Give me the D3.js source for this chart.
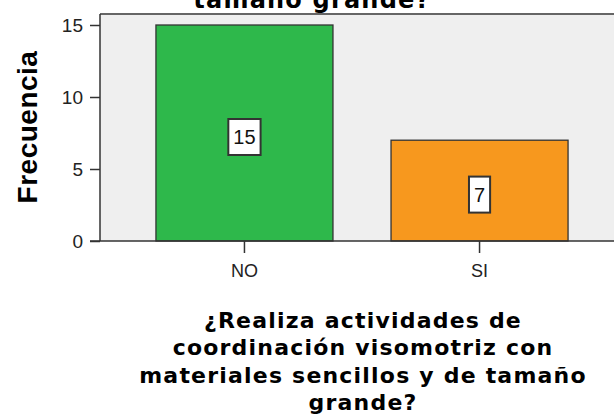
<!DOCTYPE html>
<html>
<head>
<meta charset="utf-8">
<script src="https://cdn.jsdelivr.net/npm/d3@7"></script>
<style>
	html, body { margin: 0; padding: 0; background: #fff; }
	svg { display: block; font-family: "Liberation Sans", Arial, sans-serif; }
</style>
</head>
<body>
<svg id="chart"></svg>
<script>
	// Data
	const categories = ["NO", "SI"];
	const counts = [15, 7];
	const barColors = ["#2eb84b", "#f7981e"];
	const yTicks = [0, 5, 10, 15];
	const titleTop = "tamaño grande?";
	const titleLines = ["¿Realiza actividades de", "coordinación visomotriz con", "materiales sencillos y de tamaño", "grande?"];

	const width = 614;
	const height = 417;
	const plot = {left: 100, right: 624, top: 14, bottom: 241};
	const titleFont = "'DejaVu Sans', Verdana, sans-serif";

	const svg = d3.select("#chart")
			.attr("width", width)
			.attr("height", height);

	// Scales
	const x = d3.scaleBand()
			.domain(categories)
			.range([plot.left, plot.right])
			.paddingInner(0.247)
			.paddingOuter(0.238);

	const y = d3.scaleLinear()
			.domain([0, 15])
			.range([plot.bottom, 25]);

	// Plot background
	svg.append("rect")
			.attr("x", plot.left)
			.attr("y", plot.top)
			.attr("width", plot.right - plot.left)
			.attr("height", plot.bottom - plot.top)
			.style("fill", "#efefef");

	svg.append("line")
			.attr("x1", plot.left).attr("x2", width)
			.attr("y1", plot.top).attr("y2", plot.top)
			.style("stroke", "#666")
			.style("stroke-width", 2);

	// Top (cut-off) title
	svg.append("text")
			.attr("x", 312)
			.attr("y", 8)
			.attr("text-anchor", "middle")
			.style("font-family", titleFont)
			.style("font-size", "24px")
			.style("font-weight", "bold")
			.style("letter-spacing", "1.2px")
			.text(titleTop);

	// Bars
	const bars = svg.selectAll(".bar")
		.data(counts)
		.enter().append("g")
			.attr("class", "bar");

	bars.append("rect")
			.attr("x", (d, i) => x(categories[i]))
			.attr("y", d => y(d))
			.attr("width", x.bandwidth())
			.attr("height", d => y(0) - y(d))
			.style("fill", (d, i) => barColors[i])
			.style("stroke", "#333")
			.style("stroke-width", 1.3);

	// Value labels in boxes
	const labels = bars.append("g")
			.attr("transform", (d, i) => `translate(${x(categories[i]) + x.bandwidth() / 2}, ${y(d / 2) + 4})`);

	labels.append("text")
			.attr("text-anchor", "middle")
			.attr("dy", "0.36em")
			.style("font-size", "20px")
			.style("fill", "#111")
			.text(d => d);

	labels.each(function() {
		const g = d3.select(this);
		const w = g.select("text").node().getComputedTextLength();
		g.insert("rect", "text")
				.attr("x", -w / 2 - 5)
				.attr("y", -18)
				.attr("width", w + 10)
				.attr("height", 36)
				.style("fill", "#fff")
				.style("stroke", "#333")
				.style("stroke-width", 2);
	});

	// Axes
	const yAxis = svg.append("g")
			.attr("transform", `translate(${plot.left}, 0)`)
			.call(d3.axisLeft(y).tickValues(yTicks).tickSize(10).tickPadding(7));

	const xAxis = svg.append("g")
			.attr("transform", `translate(0, ${plot.bottom})`)
			.call(d3.axisBottom(x).tickSize(12).tickPadding(11).tickSizeOuter(0));

	yAxis.select(".domain").attr("d", `M0,${plot.top}V${plot.bottom}`);
	xAxis.select(".domain").attr("d", `M${plot.left - 10},0H${width}`);

	[yAxis, xAxis].forEach(a => {
		a.selectAll("path, line").style("stroke", "#333").style("stroke-width", 1.5);
		a.selectAll("text")
				.style("font-family", "'Liberation Sans', Arial, sans-serif")
				.style("font-size", "18px")
				.style("fill", "#222");
	});
	yAxis.selectAll("text").style("font-size", "19px");

	// Y axis title
	svg.append("text")
			.attr("transform", "translate(37, 127) rotate(-90)")
			.attr("text-anchor", "middle")
			.style("font-size", "28px")
			.style("font-weight", "bold")
			.style("letter-spacing", "0.5px")
			.text("Frecuencia");

	// X axis title
	svg.append("text")
			.attr("text-anchor", "middle")
			.style("font-family", titleFont)
			.style("font-size", "22px")
			.style("font-weight", "bold")
			.style("letter-spacing", "1.2px")
		.selectAll("tspan")
		.data(titleLines)
		.enter().append("tspan")
			.attr("x", 363)
			.attr("y", (d, i) => 328 + i * 27.3)
			.text(d => d);
</script>
</body>
</html>
